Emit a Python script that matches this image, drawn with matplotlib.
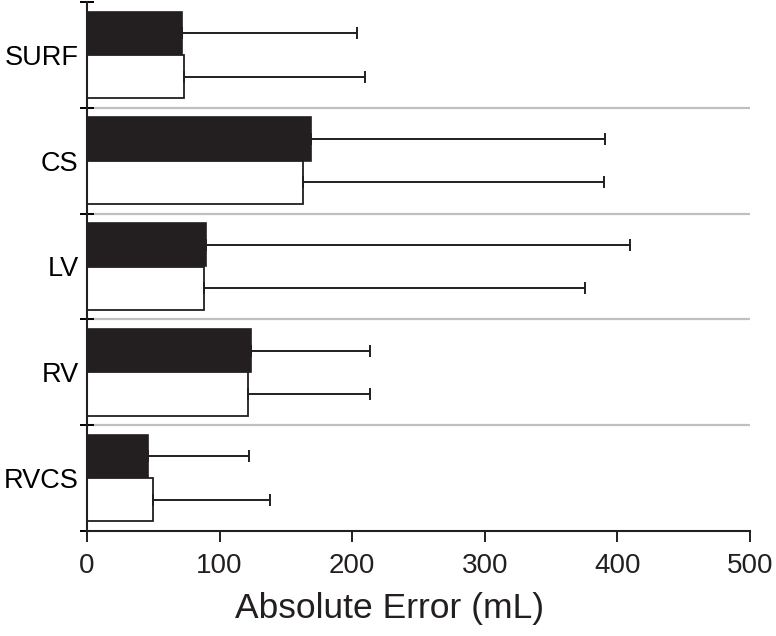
import matplotlib
matplotlib.use("Agg")
import matplotlib.pyplot as plt
import numpy as np

plt.rcParams['font.family'] = ['Liberation Sans', 'DejaVu Sans']

categories = ["SURF", "CS", "LV", "RV", "RVCS"]
black_vals = [72, 169, 90, 123.5, 46]
black_upper = [203.6, 390.6, 409.5, 213.7, 122.2]
white_vals = [73.5, 162.7, 88.2, 121.7, 49.5]
white_upper = [209.4, 389.9, 375.8, 213.5, 138]
xticks = [0, 100, 200, 300, 400, 500]
xlabel = "Absolute Error (mL)"

dark = "#231f20"
fig = plt.figure(figsize=(7.76, 6.36), dpi=100)
ax = fig.add_axes([87/776, 1-531/636, (750-87)/776, (531-2)/636])

y = np.arange(len(categories))
h = 0.41
bv = np.array(black_vals); wv = np.array(white_vals)
berr = np.array(black_upper) - bv
werr = np.array(white_upper) - wv

for i in range(1, len(categories)):
    ax.axhline(i - 0.5, color="#c0c0c0", lw=1.6, zorder=0)

ax.barh(y - h/2, bv, height=h, color=dark, edgecolor=dark, lw=1.2, zorder=2)
ax.barh(y + h/2, wv, height=h, color="white", edgecolor=dark, lw=1.3, zorder=2)
ax.errorbar(bv, y - h/2, xerr=[np.zeros_like(bv), berr], fmt="none",
            ecolor=dark, elinewidth=1.4, capsize=4, capthick=1.4, zorder=3)
ax.errorbar(wv, y + h/2, xerr=[np.zeros_like(wv), werr], fmt="none",
            ecolor=dark, elinewidth=1.4, capsize=4, capthick=1.4, zorder=3)

ax.set_xlim(0, 500)
ax.set_ylim(len(categories) - 0.5, -0.5)
ax.set_xticks(xticks)
ax.set_xticklabels([str(t) for t in xticks], fontsize=20)
ax.set_yticks(np.arange(len(categories) + 1) - 0.5)
ax.set_yticklabels([])
ax.set_yticks(y, minor=True)
ax.set_yticklabels(categories, minor=True, fontsize=19.5)
ax.tick_params(axis="y", which="major", direction="inout", length=10, width=1.4)
ax.tick_params(axis="y", which="minor", length=0, pad=6)
ax.tick_params(axis="x", direction="out", length=8, width=1.4, pad=8, colors=dark)
ax.set_xlabel(xlabel, fontsize=25.5, labelpad=8, color=dark)
ax.xaxis.set_label_coords((390 - 87) / 663, -0.115)

for s in ["top", "right"]:
    ax.spines[s].set_visible(False)
for s in ["left", "bottom"]:
    ax.spines[s].set_linewidth(1.5)
    ax.spines[s].set_color(dark)

fig.savefig("out.png", dpi=100)
